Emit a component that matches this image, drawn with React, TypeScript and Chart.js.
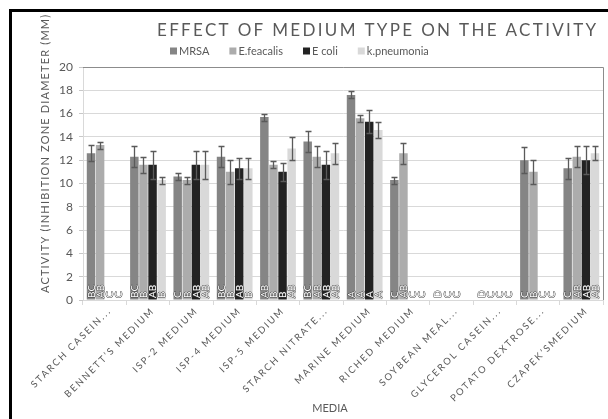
import React, { useEffect, useRef } from "react";
import { Chart, registerables } from "chart.js";

Chart.register(...registerables);

const categories = [
  "STARCH CASEIN...",
  "BENNETT’S MEDIUM",
  "ISP-2 MEDIUM",
  "ISP-4 MEDIUM",
  "ISP-5 MEDIUM",
  "STARCH NITRATE...",
  "MARINE MEDIUM",
  "RICHED MEDIUM",
  "SOYBEAN MEAL...",
  "GLYCEROL CASEIN...",
  "POTATO DEXTROSE...",
  "CZAPEK’SMEDIUM",
];

const seriesNames = ["MRSA", "E.feacalis", "E coli", "k.pneumonia"];

const mrsa = [12.6, 12.3, 10.6, 12.3, 15.7, 13.6, 17.6, 10.3, 0, 0, 12.0, 11.3];
const feacalis = [13.3, 11.6, 10.3, 11.0, 11.6, 12.3, 15.6, 12.6, 0, 0, 11.0, 12.3];
const ecoli = [0, 11.6, 11.6, 11.3, 11.0, 11.6, 15.3, 0, 0, 0, 0, 12.0];
const kpneumonia = [0, 10.3, 11.6, 11.3, 13.0, 12.6, 14.6, 0, 0, 0, 0, 12.6];

const mrsaErr = [0.7, 0.9, 0.3, 0.9, 0.3, 0.9, 0.3, 0.3, 0, 0, 1.1, 0.9];
const feacalisErr = [0.3, 0.7, 0.3, 1.0, 0.3, 0.9, 0.3, 0.9, 0, 0, 1.0, 0.9];
const ecoliErr = [0, 1.2, 1.2, 0.9, 0.8, 1.2, 1.0, 0, 0, 0, 0, 1.2];
const kpneumoniaErr = [0, 0.3, 1.2, 0.9, 1.0, 0.9, 0.7, 0, 0, 0, 0, 0.6];

// significance letters written at the foot of each bar
const mrsaGroups = ["BC", "BC", "C", "BC", "AB", "BC", "A", "C", "D", "D", "C", "C"];
const feacalisGroups = ["AB", "B", "B", "B", "B", "AB", "A", "AB", "C", "C", "B", "AB"];
const ecoliGroups = ["C", "AB", "AB", "AB", "B", "AB", "A", "C", "C", "C", "C", "AB"];
const kpneumoniaGroups = ["C", "B", "AB", "B", "AB", "AB", "A", "C", "", "C", "C", "AB"];

const yTicks = { min: 0, max: 20, step: 2 };

const chartTitle = "EFFECT OF MEDIUM TYPE ON THE ACTIVITY";
const yTitle = "ACTIVITY (INHIBITION ZONE DIAMETER (MM)";
const xTitle = "MEDIA";

const colors = ["#858585", "#acacac", "#222222", "#d9d9d9"];
const TEXT = "#595959";
const FONT = "Lato, 'Liberation Sans', sans-serif";

const errors = [mrsaErr, feacalisErr, ecoliErr, kpneumoniaErr];
const groups = [mrsaGroups, feacalisGroups, ecoliGroups, kpneumoniaGroups];

function spacedText(ctx: CanvasRenderingContext2D, text: string, span: number) {
  ctx.letterSpacing = "0px";
  const w0 = ctx.measureText(text).width;
  const ls = (span - w0) / Math.max(1, text.length - 1);
  ctx.letterSpacing = ls.toFixed(2) + "px";
}

const decor = {
  id: "decor",
  beforeDraw(chart: any) {
    const { ctx, width, height } = chart;
    ctx.save();
    ctx.fillStyle = "#ffffff";
    ctx.fillRect(0, 0, width, height);
    ctx.fillStyle = "#000000";
    ctx.fillRect(9, 9, width - 9, 3);
    ctx.fillRect(9, 9, 3, height - 9);
    ctx.restore();
  },
  afterDatasetsDraw(chart: any) {
    const { ctx } = chart;
    const y = chart.scales.y;
    ctx.save();
    // error bars
    ctx.strokeStyle = "#5a5a5a";
    ctx.lineWidth = 1.3;
    chart.data.datasets.forEach((ds: any, d: number) => {
      const meta = chart.getDatasetMeta(d);
      meta.data.forEach((bar: any, i: number) => {
        const e = errors[d][i];
        const v = ds.data[i];
        if (!e) return;
        const yt = Math.round(y.getPixelForValue(v + e)) + 0.5;
        const yb = Math.round(y.getPixelForValue(v - e)) + 0.5;
        const x = Math.round(bar.x) + 0.5;
        ctx.beginPath();
        ctx.moveTo(x, yt);
        ctx.lineTo(x, yb);
        ctx.moveTo(x - 3, yt);
        ctx.lineTo(x + 3, yt);
        ctx.moveTo(x - 3, yb);
        ctx.lineTo(x + 3, yb);
        ctx.stroke();
      });
    });
    // group letters
    ctx.font = `10px ${FONT}`;
    ctx.textAlign = "left";
    ctx.textBaseline = "middle";
    ctx.lineJoin = "round";
    const base = y.getPixelForValue(0) - 2;
    chart.data.datasets.forEach((_ds: any, d: number) => {
      const meta = chart.getDatasetMeta(d);
      meta.data.forEach((bar: any, i: number) => {
        const g = groups[d][i];
        if (!g) return;
        ctx.save();
        ctx.translate(bar.x + 0.5, base);
        ctx.rotate(-Math.PI / 2);
        ctx.strokeStyle = "#3c3c3c";
        ctx.lineWidth = 0.9;
        ctx.strokeText(g, 0, 0);
        ctx.fillStyle = "#ffffff";
        ctx.fillText(g, 0, 0);
        ctx.restore();
      });
    });
    ctx.restore();
  },
  afterDraw(chart: any) {
    const { ctx, chartArea } = chart;
    const x = chart.scales.x;
    ctx.save();
    // plot area border (top / right)
    ctx.strokeStyle = "#8c8c8c";
    ctx.lineWidth = 1;
    ctx.beginPath();
    ctx.moveTo(chartArea.left, chartArea.top + 0.5);
    ctx.lineTo(chartArea.right + 0.5, chartArea.top + 0.5);
    ctx.lineTo(chartArea.right + 0.5, chartArea.bottom);
    ctx.stroke();

    ctx.fillStyle = TEXT;
    // title
    ctx.font = `17px ${FONT}`;
    ctx.textAlign = "left";
    ctx.textBaseline = "middle";
    spacedText(ctx, chartTitle, 439);
    ctx.fillText(chartTitle, 157, 31);

    // legend
    ctx.letterSpacing = "0px";
    ctx.font = `11px ${FONT}`;
    let lx = 170;
    const ly = 51;
    chart.data.datasets.forEach((ds: any) => {
      ctx.fillStyle = ds.backgroundColor;
      ctx.fillRect(lx, ly - 3.5, 7, 7);
      ctx.fillStyle = TEXT;
      ctx.fillText(ds.label, lx + 9, ly);
      lx += 9 + ctx.measureText(ds.label).width + 20;
    });

    // y axis title
    ctx.save();
    ctx.translate(45, 154);
    ctx.rotate(-Math.PI / 2);
    ctx.font = `11px ${FONT}`;
    ctx.textAlign = "left";
    spacedText(ctx, yTitle, 278);
    ctx.fillText(yTitle, -139, 0);
    ctx.restore();

    // category labels
    ctx.font = `9.5px ${FONT}`;
    ctx.letterSpacing = "1.9px";
    ctx.textAlign = "right";
    ctx.textBaseline = "middle";
    categories.forEach((c, i) => {
      const px = x.getPixelForValue(i);
      ctx.save();
      ctx.translate(px + 5, chartArea.bottom + 9);
      ctx.rotate(-Math.PI / 4);
      ctx.fillText(c, 0, 0);
      ctx.restore();
    });

    // x axis title
    ctx.letterSpacing = "0px";
    ctx.font = `11px ${FONT}`;
    ctx.textAlign = "center";
    ctx.fillText(xTitle, 330, 408);
    ctx.restore();
  },
};

export default function App() {
  const ref = useRef<HTMLCanvasElement | null>(null);

  useEffect(() => {
    if (!ref.current) return;
    const series = [mrsa, feacalis, ecoli, kpneumonia];
    const chart = new Chart(ref.current, {
      type: "bar",
      data: {
        labels: categories,
        datasets: series.map((s, k) => ({
          label: seriesNames[k],
          data: s,
          backgroundColor: colors[k],
          borderWidth: 0,
          categoryPercentage: 0.84,
          barPercentage: 0.93,
        })),
      },
      options: {
        responsive: false,
        animation: false,
        devicePixelRatio: 1,
        layout: { padding: { top: 67, left: 0, right: 5, bottom: 0 } },
        plugins: {
          legend: { display: false },
          title: { display: false },
          tooltip: { enabled: false },
        },
        scales: {
          x: {
            ticks: { display: false },
            grid: {
              drawOnChartArea: false,
              drawTicks: true,
              tickLength: 5,
              color: "#d9d9d9",
              offset: true,
            },
            border: { color: "#d9d9d9" },
            afterFit: (s: any) => {
              s.height = 119;
            },
          },
          y: {
            min: yTicks.min,
            max: yTicks.max,
            ticks: {
              stepSize: yTicks.step,
              color: TEXT,
              font: { family: FONT, size: 12 },
              padding: 6,
            },
            grid: { color: "#d9d9d9", tickLength: 4, tickColor: "#c8c8c8" },
            border: { color: "#d9d9d9" },
            afterFit: (s: any) => {
              s.width = 83;
            },
          },
        },
      },
      plugins: [decor],
    });
    return () => chart.destroy();
  }, []);

  return (
    <div style={{ position: "fixed", left: 0, top: 0, width: 608, height: 419, overflow: "hidden", background: "#fff" }}>
      <canvas ref={ref} width={608} height={419} style={{ display: "block" }} />
    </div>
  );
}
